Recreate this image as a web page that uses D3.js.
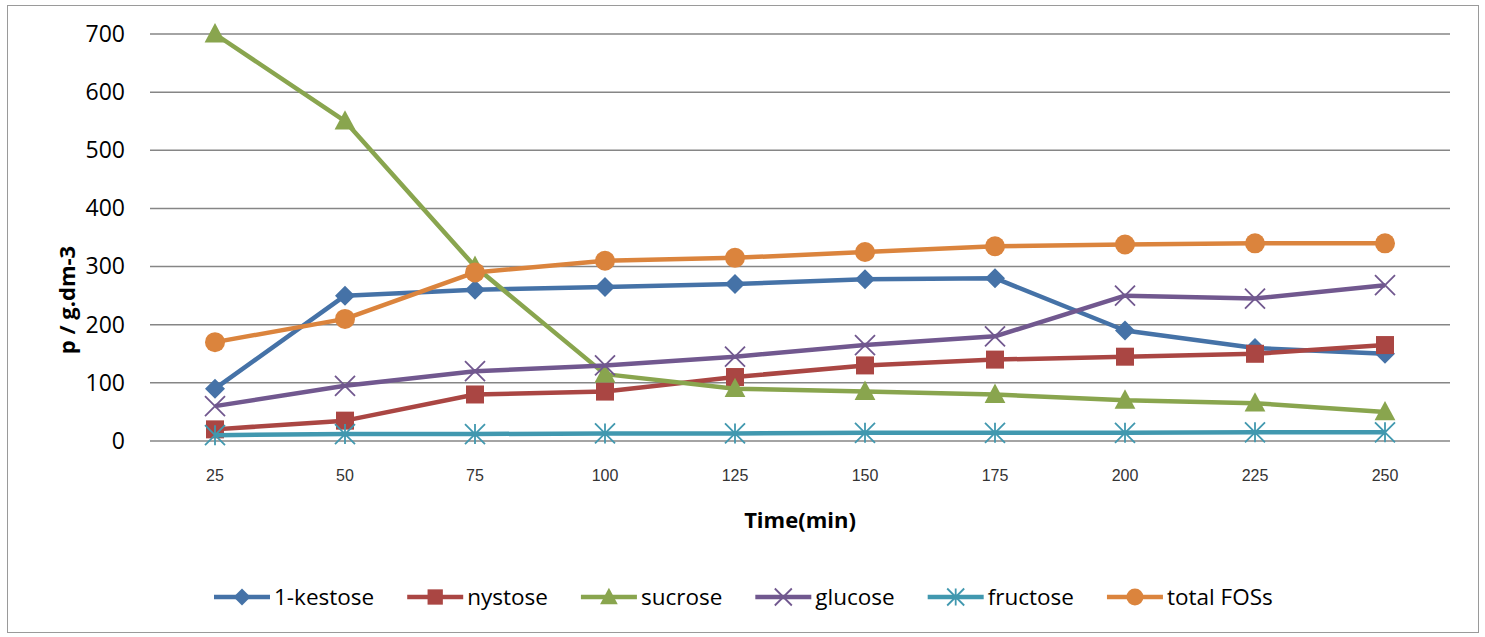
<!DOCTYPE html>
<html><head><meta charset="utf-8">
<script src="https://cdn.jsdelivr.net/npm/d3@7"></script>
<style>body{margin:0;background:#fff}svg{display:block}</style>
</head><body>
<svg id="c" width="1485" height="637"></svg>
<script>
const categories = ["25","50","75","100","125","150","175","200","225","250"];
const kestose = [90,250,260,265,270,278,280,190,160,150];
const nystose = [20,35,80,85,110,130,140,145,150,165];
const sucrose = [700,550,300,115,90,85,80,70,65,50];
const glucose = [60,95,120,130,145,165,180,250,245,268];
const fructose = [10,12,12,13,13,14,14,14,15,15];
const totalFOS = [170,210,290,310,315,325,335,338,340,340];
const yTicks = [0,100,200,300,400,500,600,700];
const seriesNames = ["1-kestose","nystose","sucrose","glucose","fructose","total FOSs"];
const seriesColors = ["#4572A7","#AA4643","#89A54E","#71588F","#4198AF","#DB843D"];
const seriesMarkers = ["diamond","square","triangle","x","star","circle"];
const seriesValues = [kestose,nystose,sucrose,glucose,fructose,totalFOS];

const svg = d3.select("#c");
svg.append("rect").attr("x",7.5).attr("y",5.5).attr("width",1471).attr("height",627)
  .attr("fill","#fff").attr("stroke","#9a9a9a").attr("stroke-width",1);

const x = d3.scaleBand().domain(categories).range([150,1450]);
const y = d3.scaleLinear().domain([0,700]).range([441,34]);

svg.append("g").selectAll("line").data(yTicks).join("line")
  .attr("x1",150).attr("x2",1450).attr("y1",d=>y(d)).attr("y2",d=>y(d))
  .attr("stroke","#868686").attr("stroke-width",1.5);

const yAxis = svg.append("g").attr("transform","translate(150,0)")
  .call(d3.axisLeft(y).tickValues(yTicks).tickSize(0).tickPadding(25));
yAxis.select(".domain").remove();
yAxis.selectAll("text").attr("font-family","'Open Sans',sans-serif").attr("font-size",23).attr("fill","#000");

const xAxis = svg.append("g").attr("transform","translate(0,441)")
  .call(d3.axisBottom(x).tickSize(0).tickPadding(29));
xAxis.select(".domain").remove();
xAxis.selectAll("text").attr("font-family","'Liberation Sans',Arial,sans-serif").attr("font-size",16).attr("fill","#333");

svg.append("text").attr("x",800).attr("y",528).attr("text-anchor","middle")
  .attr("font-family","'Open Sans',sans-serif").attr("font-weight","bold").attr("font-size",22)
  .text("Time(min)");
svg.append("text").attr("transform","translate(75,300) rotate(-90)").attr("text-anchor","middle")
  .attr("font-family","'Open Sans',sans-serif").attr("font-weight","bold").attr("font-size",22)
  .text("p / g.dm-3");

function drawMarker(g, type, color, s){
  if(type==="diamond"){
    g.append("path").attr("d",`M0,${-s/2}L${s/2},0L0,${s/2}L${-s/2},0Z`).attr("fill",color);
  } else if(type==="square"){
    g.append("rect").attr("x",-s*0.45).attr("y",-s*0.45).attr("width",s*0.9).attr("height",s*0.9).attr("fill",color);
  } else if(type==="triangle"){
    g.append("path").attr("d",`M0,${-s*0.55}L${s*0.52},${s*0.42}L${-s*0.52},${s*0.42}Z`).attr("fill",color);
  } else if(type==="circle"){
    g.append("circle").attr("r",s/2).attr("fill",color);
  } else if(type==="x"){
    const h=s/2;
    g.append("path").attr("d",`M${-h},${-h}L${h},${h}M${-h},${h}L${h},${-h}`).attr("stroke",color).attr("stroke-width",1.8);
  } else if(type==="star"){
    const h=s/2;
    g.append("path").attr("d",`M${-h},${-h}L${h},${h}M${-h},${h}L${h},${-h}M0,${-h}L0,${h}`).attr("stroke",color).attr("stroke-width",1.8);
  }
}

const line = d3.line().x((d,i)=>x(categories[i])+x.bandwidth()/2).y(d=>y(d));
seriesValues.forEach((vals,si)=>{
  const g = svg.append("g");
  g.append("path").datum(vals).attr("d",line).attr("fill","none")
    .attr("stroke",seriesColors[si]).attr("stroke-width",4.5).attr("stroke-linejoin","round");
  vals.forEach((v,i)=>{
    const m = g.append("g").attr("transform",`translate(${x(categories[i])+x.bandwidth()/2},${y(v)})`);
    drawMarker(m, seriesMarkers[si], seriesColors[si], 20);
  });
});

let lx = 214;
const ly = 597;
seriesNames.forEach((name,si)=>{
  const g = svg.append("g");
  g.append("line").attr("x1",lx).attr("x2",lx+56).attr("y1",ly).attr("y2",ly)
    .attr("stroke",seriesColors[si]).attr("stroke-width",4.5);
  const m = g.append("g").attr("transform",`translate(${lx+28},${ly})`);
  drawMarker(m, seriesMarkers[si], seriesColors[si], 17);
  const t = g.append("text").attr("x",lx+60).attr("y",ly+8)
    .attr("font-family","'Open Sans',sans-serif").attr("font-size",22.5).attr("fill","#000").text(name);
  lx = lx + 60 + t.node().getComputedTextLength() + 33;
});
</script>
</body></html>
